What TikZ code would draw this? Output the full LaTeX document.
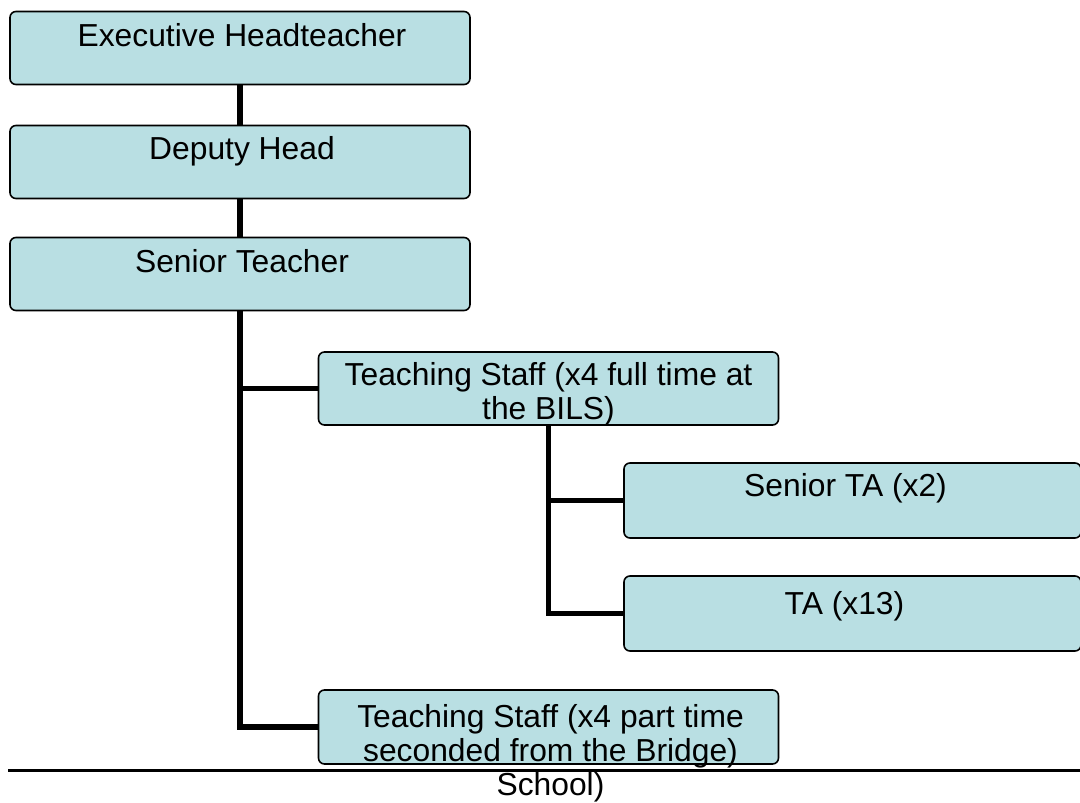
\documentclass[tikz,border=0pt]{standalone}
\usepackage{fontspec}
\setmainfont{Liberation Sans}
\definecolor{boxfill}{RGB}{185,223,227}
\begin{document}
\begin{tikzpicture}[x=1pt,y=-1pt,
  box/.style={draw=black, line width=1.6pt, fill=boxfill, rounded corners=6pt,
    inner sep=0pt, minimum width=460pt, minimum height=73pt},
  lbl/.style={inner sep=0pt, align=center, anchor=base,
    font=\fontsize{31.8}{34}\selectfont},
  conn/.style={draw=black, line width=5.5pt}]
\useasboundingbox (0,0) rectangle (1080,803);

% boxes
\node[box] (exec) at (240,48)  {};
\node[box] (dep)  at (240,162) {};
\node[box] (sen)  at (240,274) {};
\node[box] (tsf)  at (548.5,388.5) {};
\node[box, minimum width=457pt, minimum height=75pt] (sta) at (852.5,500.5) {};
\node[box, minimum width=457pt, minimum height=75pt] (ta)  at (852.5,613.5) {};
\node[box, minimum height=74pt] (tsp) at (548.5,727) {};

% connectors
\draw[conn] (exec.south) -- (dep.north);
\draw[conn] (dep.south) -- (sen.north);
\draw[conn] (sen.south) |- (tsf.west);
\draw[conn] (sen.south) |- (tsp.west);
\draw[conn] (tsf.south) |- (sta.west);
\draw[conn] (tsf.south) |- (ta.west);

% labels (base anchor of a multi-line label sits on its last line)
\node[lbl] (execT) at ([xshift=2pt,yshift=-36pt]exec.north) {Executive Headteacher};
\node[lbl] (depT)  at ([xshift=2pt,yshift=-35pt]dep.north) {Deputy Head};
\node[lbl] (senT)  at ([xshift=2pt,yshift=-36pt]sen.north) {Senior Teacher};
\node[lbl] (tsfT)  at ([yshift=-68pt]tsf.north) {Teaching Staff (x4 full time at\\the BILS)};
\node[lbl] (staT)  at ([xshift=-7pt,yshift=-34pt]sta.north) {Senior TA (x2)};
\node[lbl] (taT)   at ([xshift=-8pt,yshift=-39pt]ta.north) {TA (x13)};
\node[lbl] (tspT)  at ([xshift=2pt,yshift=-106pt]tsp.north) {Teaching Staff (x4 part time\\seconded from the Bridge)\\School)};

% rule across the foot
\coordinate (ruleL) at (8,770);
\coordinate (ruleR) at (1080,770);
\draw[line width=3pt] (ruleL) -- (ruleR);
\end{tikzpicture}
\end{document}
